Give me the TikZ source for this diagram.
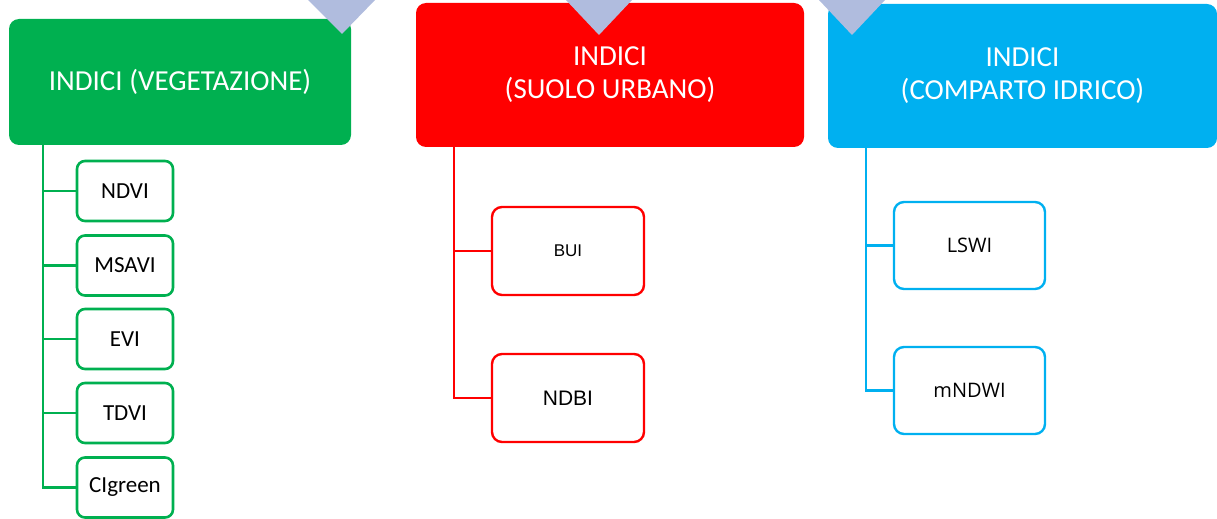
\documentclass[tikz,border=0pt]{standalone}
\usepackage{fontspec}
\setmainfont{Carlito}
\newfontfamily\arialf{Liberation Sans}
\newfontfamily\segf{Open Sans}
\definecolor{vgreen}{HTML}{00B050}
\definecolor{vred}{HTML}{FF0000}
\definecolor{vblue}{HTML}{00B0F0}
\definecolor{tri}{HTML}{B0BCDE}
\tikzset{
  header/.style={rounded corners=5pt, inner sep=0pt, text=white, align=center,
    font=\fontsize{14.5}{16.5}\selectfont},
  gchild/.style={draw=vgreen, line width=1.3pt, rounded corners=4pt, fill=white,
    minimum width=48pt, minimum height=30pt, inner sep=0pt, font=\fontsize{11.5}{13}\selectfont},
  rchild/.style={draw=vred, line width=1.2pt, rounded corners=5pt, fill=white,
    minimum width=76pt, minimum height=44pt, inner sep=0pt, font=\arialf},
  bchild/.style={draw=vblue, line width=1.2pt, rounded corners=5pt, fill=white,
    minimum width=75.5pt, minimum height=43.5pt, inner sep=0pt, font=\segf\fontsize{10}{12}\selectfont},
  gline/.style={draw=vgreen, line width=1.3pt},
  rline/.style={draw=vred, line width=1.2pt},
  bline/.style={draw=vblue, line width=1.2pt},
  arrowtri/.style={fill=tri},
}
\begin{document}
\begin{tikzpicture}[x=0.5pt,y=-0.5pt]
\useasboundingbox (0,0) rectangle (1217,519);
\clip (0,0) rectangle (1217,519);
% headers
\node[header, fill=vgreen, minimum width=171pt, minimum height=63pt] (green) at (180,82) {\raisebox{-1pt}{INDICI (VEGETAZIONE)}};
\node[header, fill=vred, minimum width=194pt, minimum height=72pt] (red) at (610,75) {INDICI\\(SUOLO URBANO)};
\node[header, fill=vblue, minimum width=194.5pt, minimum height=72pt] (blue) at (1022.5,76) {INDICI\\(COMPARTO IDRICO)};
% arrows from above
\fill[arrowtri] (308,0) -- (375,0) -- (342,34) -- cycle;
\fill[arrowtri] (566,0) -- (632,0) -- (599,35) -- cycle;
\fill[arrowtri] (819,0) -- (885,0) -- (852,35) -- cycle;
% trunk coordinates
\coordinate (gt) at (43,0);
\coordinate (rt) at (454,0);
\coordinate (bt) at (866,0);
% green children
\node[gchild] (ndvi) at (125,191) {NDVI};
\node[gchild] (msavi) at (125,265.5) {MSAVI};
\node[gchild] (evi) at (125,339) {EVI};
\node[gchild] (tdvi) at (125,413) {TDVI};
\node[gchild] (cig) at (125,487.5) {CIgreen};
% red children
\node[rchild, font=\arialf\fontsize{8.5}{10}\selectfont] (bui) at (568,251) {BUI};
\node[rchild, font=\arialf\fontsize{10.5}{12}\selectfont] (ndbi) at (568,398) {NDBI};
% blue children
\node[bchild] (lswi) at (969.5,245.5) {LSWI};
\node[bchild] (mndwi) at (969.5,390.5) {mNDWI};
% connectors
\draw[gline] (green.south -| gt) |- (cig.west);
\foreach \c in {ndvi,msavi,evi,tdvi}{
  \draw[gline] (gt |- \c.west) -- (\c.west);
}
\draw[rline] (red.south -| rt) |- (ndbi.west);
\draw[rline] (rt |- bui.west) -- (bui.west);
\draw[bline] (blue.south -| bt) |- (mndwi.west);
\draw[bline] (bt |- lswi.west) -- (lswi.west);
\end{tikzpicture}
\end{document}
